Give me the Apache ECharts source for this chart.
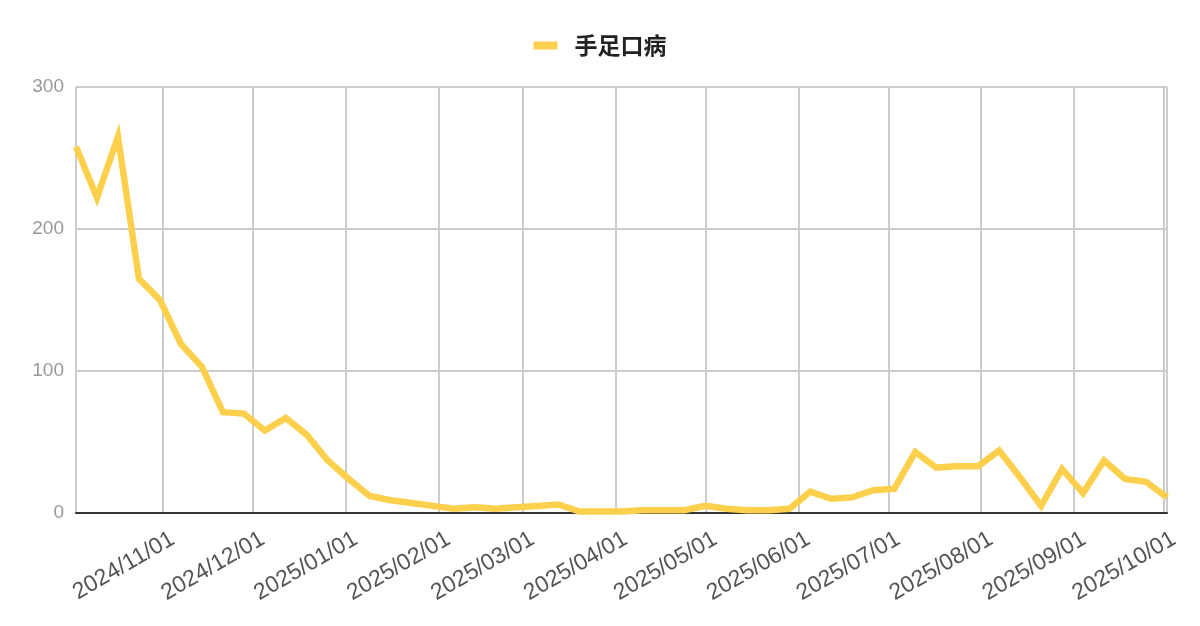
<!DOCTYPE html>
<html>
<head>
<meta charset="utf-8">
<script src="https://cdn.jsdelivr.net/npm/echarts@6/dist/echarts.min.js"></script>
<style>
  html, body { margin: 0; padding: 0; background: #fff; }
  #chart { width: 1200px; height: 626px; }
</style>
</head>
<body>
<div id="chart"></div>
<script>
const seriesName = '手足口病'

const dates = [
  '2024-10-03', '2024-10-10', '2024-10-17', '2024-10-24', '2024-10-31',
  '2024-11-07', '2024-11-14', '2024-11-21', '2024-11-28',
  '2024-12-05', '2024-12-12', '2024-12-19', '2024-12-26',
  '2025-01-02', '2025-01-09', '2025-01-16', '2025-01-23', '2025-01-30',
  '2025-02-06', '2025-02-13', '2025-02-20', '2025-02-27',
  '2025-03-06', '2025-03-13', '2025-03-20', '2025-03-27',
  '2025-04-03', '2025-04-10', '2025-04-17', '2025-04-24',
  '2025-05-01', '2025-05-08', '2025-05-15', '2025-05-22', '2025-05-29',
  '2025-06-05', '2025-06-12', '2025-06-19', '2025-06-26',
  '2025-07-03', '2025-07-10', '2025-07-17', '2025-07-24', '2025-07-31',
  '2025-08-07', '2025-08-14', '2025-08-21', '2025-08-28',
  '2025-09-04', '2025-09-11', '2025-09-18', '2025-09-25',
  '2025-10-02'
]

const cases = [
  258, 222, 265, 165, 150,
  119, 103, 71, 70,
  58, 67, 55, 37,
  24, 12, 9, 7, 5,
  3, 4, 3, 4,
  5, 6, 1, 1,
  1, 2, 2, 2,
  5, 3, 2, 2, 3,
  15, 10, 11, 16,
  17, 43, 32, 33, 33,
  44, 25, 5, 31,
  14, 37, 24, 22,
  11
]

const yTicks = [0, 100, 200, 300]

const lineColor = '#fcd04c'
const gridColor = '#cccccc'

const chart = echarts.init(document.getElementById('chart'), null, { renderer: 'canvas' })

chart.setOption({
  backgroundColor: '#ffffff',
  animation: false,
  legend: {
    top: 29,
    left: 'center',
    icon: 'rect',
    itemWidth: 24,
    itemHeight: 8,
    textStyle: {
      color: '#222',
      fontSize: 23,
      fontWeight: 'bold',
      fontFamily: '"Noto Sans CJK SC", sans-serif',
      padding: [0, 0, 0, 12]
    },
    data: [seriesName]
  },
  grid: { left: 76, right: 33, top: 87, bottom: 113, containLabel: false },
  xAxis: {
    type: 'time',
    min: dates[0],
    max: dates[dates.length - 1],
    minInterval: 28 * 86400000,
    maxInterval: 31 * 86400000,
    axisLine: { show: true, lineStyle: { color: '#333', width: 2 } },
    axisTick: { show: false },
    splitLine: { show: true, lineStyle: { color: gridColor, width: 2 } },
    axisLabel: {
      rotate: 30,
      margin: 17,
      color: '#555',
      fontSize: 23,
      verticalAlign: 'top',
      padding: [0, -5, 0, 0],
      fontFamily: '"Liberation Sans", Arial, sans-serif',
      showMinLabel: false,
      formatter: '{yyyy}/{MM}/{dd}'
    }
  },
  yAxis: {
    type: 'value',
    min: yTicks[0],
    max: yTicks[yTicks.length - 1],
    interval: 100,
    axisLine: { show: false },
    axisTick: { show: false },
    splitLine: { lineStyle: { color: gridColor, width: 2 } },
    axisLabel: {
      margin: 12,
      color: '#999',
      fontSize: 19,
      fontFamily: '"Liberation Sans", Arial, sans-serif'
    }
  },
  series: [
    {
      name: seriesName,
      type: 'line',
      data: dates.map((d, i) => [d, cases[i]]),
      showSymbol: false,
      symbol: 'none',
      color: lineColor,
      lineStyle: { color: lineColor, width: 6.5, join: 'miter', cap: 'butt' },
      z: 3
    }
  ]
})
</script>
</body>
</html>
